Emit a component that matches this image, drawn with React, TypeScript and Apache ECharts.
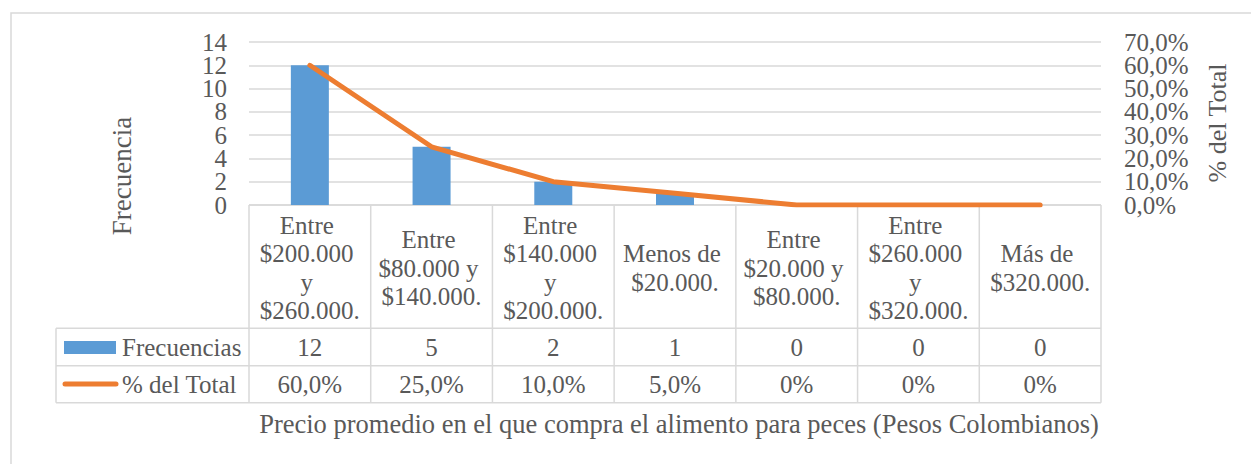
import React, { useEffect, useRef } from "react";
import * as echarts from "echarts";

const categories = [
  "Entre $200.000 y $260.000.",
  "Entre $80.000 y $140.000.",
  "Entre $140.000 y $200.000.",
  "Menos de $20.000.",
  "Entre $20.000 y $80.000.",
  "Entre $260.000 y $320.000.",
  "Más de $320.000.",
];
const frecuencias = [12, 5, 2, 1, 0, 0, 0];
const porcentajes = [0.6, 0.25, 0.1, 0.05, 0, 0, 0];
const seriesNames = ["Frecuencias", "% del Total"];
const leftTicks = [0, 2, 4, 6, 8, 10, 12, 14];
const rightTicks = [0, 0.1, 0.2, 0.3, 0.4, 0.5, 0.6, 0.7];
const xTitle = "Precio promedio en el que compra el alimento para peces (Pesos Colombianos)";
const yLeftTitle = "Frecuencia";
const yRightTitle = "% del Total";

const FONT = "'Times New Roman', 'Liberation Serif', serif";
const TEXT = "#595959";
const BORDER = "#D9D9D9";
const BLUE = "#5B9BD5";
const ORANGE = "#ED7D31";

const W = 1251;
const H = 464;
const GL = 249;
const GR = 1101;
const GT = 42;
const GB = 205;
const ROW1 = 328.3;
const ROW2 = 365.7;
const ROW3 = 402.7;
const TABLE_L = 56;

const fmtPct = (v: number) => (v === 0 ? "0%" : (v * 100).toFixed(1).replace(".", ",") + "%");
const fmtAxisPct = (v: number) => (v * 100).toFixed(1).replace(".", ",") + "%";
const evens = (a: number[]) => a.filter((_, i) => i % 2 === 0);
const odds = (a: number[]) => a.filter((_, i) => i % 2 === 1);

export default function App() {
  const ref = useRef<HTMLDivElement>(null);
  useEffect(() => {
    if (!ref.current) return;
    const chart = echarts.init(ref.current, null, { renderer: "svg" });
    const n = categories.length;
    const colW = (GR - GL) / n;
    const graphics: any[] = [];
    const txt = (text: string, x: number, y: number, size: number, align = "center", rotation = 0) => ({
      type: "text",
      x,
      y,
      rotation,
      silent: true,
      style: {
        text,
        fill: TEXT,
        font: `${size}px ${FONT}`,
        align,
        verticalAlign: "middle",
      },
    });
    const ln = (x1: number, y1: number, x2: number, y2: number) => ({
      type: "line",
      silent: true,
      shape: { x1, y1, x2, y2 },
      style: { stroke: BORDER, lineWidth: 1.5 },
    });
    // outer border
    graphics.push({
      type: "rect",
      silent: true,
      shape: { x: 11, y: 13, width: W + 20, height: H + 20 },
      style: { fill: "none", stroke: BORDER, lineWidth: 1.5 },
    });
    // table lines
    graphics.push(ln(GL, GB, GR, GB));
    graphics.push(ln(TABLE_L, ROW1, GR, ROW1));
    graphics.push(ln(TABLE_L, ROW2, GR, ROW2));
    graphics.push(ln(TABLE_L, ROW3, GR, ROW3));
    graphics.push(ln(TABLE_L, ROW1, TABLE_L, ROW3));
    for (let i = 0; i <= n; i++) {
      graphics.push(ln(GL + i * colW, GB, GL + i * colW, ROW3));
    }
    // legend keys
    graphics.push({
      type: "rect",
      silent: true,
      shape: { x: 64, y: 341, width: 52, height: 13 },
      style: { fill: BLUE },
    });
    graphics.push({
      type: "line",
      silent: true,
      shape: { x1: 65, y1: 384, x2: 116, y2: 384 },
      style: { stroke: ORANGE, lineWidth: 5, lineCap: "round" },
    });
    graphics.push(txt(seriesNames[0], 122, (ROW1 + ROW2) / 2, 25, "left"));
    graphics.push(txt(seriesNames[1], 122, (ROW2 + ROW3) / 2, 25, "left"));
    for (let i = 0; i < n; i++) {
      const cx = GL + (i + 0.5) * colW;
      graphics.push(txt(String(frecuencias[i]), cx, (ROW1 + ROW2) / 2, 25));
      graphics.push(txt(fmtPct(porcentajes[i]), cx, (ROW2 + ROW3) / 2, 25));
    }
    // titles
    graphics.push(txt(yLeftTitle, 122, 176, 27, "center", Math.PI / 2));
    graphics.push(txt(yRightTitle, 1217, 123, 26, "center", Math.PI / 2));
    graphics.push(txt(xTitle, 679, 424, 26.5));

    const leftRange = { min: leftTicks[0], max: leftTicks[leftTicks.length - 1], interval: leftTicks[1] - leftTicks[0] };
    const rightRange = { min: rightTicks[0], max: rightTicks[rightTicks.length - 1], interval: 0.1 };
    const labelBase = {
      fontSize: 25,
      lineHeight: 20,
      color: TEXT,
      fontFamily: FONT,
      showMinLabel: true,
      showMaxLabel: true,
    };
    const yAxisBase = {
      type: "value",
      axisLine: { show: false },
      axisTick: { show: false },
    };

    chart.setOption({
      animation: false,
      backgroundColor: "#fff",
      grid: { left: GL, right: W - GR, top: GT, bottom: H - GB, containLabel: false },
      xAxis: {
        type: "category",
        data: categories,
        axisLine: { show: false },
        axisTick: { show: false },
        axisLabel: {
          interval: 0,
          margin: 63,
          verticalAlign: "middle",
          align: "center",
          width: 108,
          overflow: "break",
          lineHeight: 28.5,
          fontSize: 25,
          color: TEXT,
          fontFamily: FONT,
        },
      },
      yAxis: [
        {
          ...yAxisBase,
          ...leftRange,
          position: "left",
          splitLine: { show: true, lineStyle: { color: BORDER, width: 1.5 } },
          axisLabel: { ...labelBase, margin: 22, customValues: evens(leftTicks) },
        },
        {
          ...yAxisBase,
          ...leftRange,
          position: "left",
          splitLine: { show: false },
          axisLabel: { ...labelBase, margin: 22, customValues: odds(leftTicks) },
        },
        {
          ...yAxisBase,
          ...rightRange,
          position: "right",
          splitLine: { show: false },
          axisLabel: { ...labelBase, margin: 23, customValues: evens(rightTicks), formatter: fmtAxisPct },
        },
        {
          ...yAxisBase,
          ...rightRange,
          position: "right",
          splitLine: { show: false },
          axisLabel: { ...labelBase, margin: 23, customValues: odds(rightTicks), formatter: fmtAxisPct },
        },
      ],
      series: [
        {
          name: seriesNames[0],
          type: "bar",
          data: frecuencias,
          barWidth: 38,
          itemStyle: { color: BLUE },
          yAxisIndex: 0,
        },
        {
          name: seriesNames[1],
          type: "line",
          data: porcentajes,
          yAxisIndex: 2,
          symbol: "none",
          lineStyle: { color: ORANGE, width: 5, cap: "round", join: "round" },
          itemStyle: { color: ORANGE },
        },
      ],
      graphic: { elements: graphics },
    });
    return () => chart.dispose();
  }, []);
  return (
    <div
      ref={ref}
      style={{ position: "absolute", left: 0, top: 0, width: W, height: H, background: "#fff" }}
    />
  );
}
